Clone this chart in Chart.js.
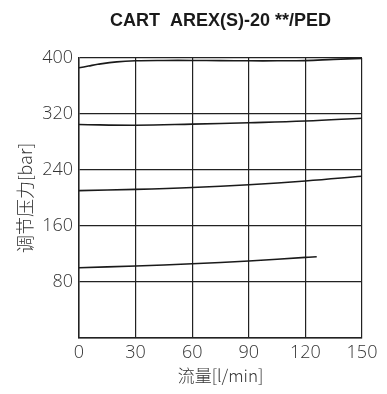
<!DOCTYPE html>
<html>
<head>
<meta charset="utf-8">
<script src="https://cdn.jsdelivr.net/npm/chart.js@4/dist/chart.umd.min.js"></script>
<style>
html,body{margin:0;padding:0;background:#fff;}
#wrap{width:387px;height:394px;position:relative;}
</style>
</head>
<body>
<div id="wrap"><canvas id="c" width="387" height="394"></canvas></div>
<script>
const chartTitle = 'CART  AREX(S)-20 **/PED';
const xTitle = '流量[l/min]';
const yTitle = '调节压力[bar]';
const xTicks = [0, 30, 60, 90, 120, 150];
const yTicks = [0, 80, 160, 240, 320, 400];

const flow1 = [0, 5, 10, 20, 30, 45, 60, 75, 90, 105, 120, 135, 150];
const p1    = [386, 388.5, 391, 394.5, 396, 396.5, 396.5, 396.3, 396, 396, 396.3, 398, 399.5];

const flow2 = [0, 30, 60, 90, 120, 150];
const p2    = [305, 304, 305.5, 307.5, 310, 314];

const flow3 = [0, 30, 60, 90, 120, 150];
const p3    = [210.5, 212.3, 215, 219, 224.3, 231];

const flow4 = [0, 30, 60, 90, 120, 126];
const p4    = [100.4, 102.8, 106, 110, 115.2, 116];

function pts(xs, ys){ return xs.map((x,i)=>({x:x, y:ys[i]})); }
function ds(xs, ys){
  return {data: pts(xs, ys), borderColor:'#1a1a1a', borderWidth:1.6, pointRadius:0, tension:0.4, fill:false};
}

const tickFont = {family:'"Open Sans", "DejaVu Sans"', size:18, weight:'300'};
const cjkFont = (sz)=>({family:'"Noto Sans CJK SC", "DejaVu Sans"', size:sz, weight:'300'});

new Chart(document.getElementById('c'), {
  type:'line',
  data:{datasets:[ds(flow1,p1), ds(flow2,p2), ds(flow3,p3), ds(flow4,p4)]},
  options:{
    responsive:false,
    animation:false,
    layout:{padding:{left:0, right:25, top:0, bottom:0}},
    plugins:{
      legend:{display:false},
      tooltip:{enabled:false},
      title:{display:true, text:chartTitle, fullSize:false, color:'#1a1a1a',
        font:{family:'"Liberation Sans", Arial, sans-serif', size:18, weight:'bold'},
        padding:{top:10, bottom:26.4}}
    },
    scales:{
      x:{type:'linear', min:0, max:150,
        afterBuildTicks:(s)=>{s.ticks = xTicks.map(v=>({value:v}));},
        afterFit:(s)=>{s.height = 56;},
        grid:{color:'#222', lineWidth:1.2, drawTicks:false},
        border:{color:'#222', width:1.5},
        ticks:{color:'#333', font:tickFont, padding:4, maxRotation:0},
        title:{display:true, text:xTitle, color:'#333', font:cjkFont(17), padding:{top:0,bottom:8}}
      },
      y:{type:'linear', min:0, max:400,
        afterBuildTicks:(s)=>{s.ticks = yTicks.map(v=>({value:v}));},
        afterFit:(s)=>{s.width = 79;},
        grid:{color:'#222', lineWidth:1.2, drawTicks:false},
        border:{color:'#222', width:1.5},
        ticks:{color:'#333', font:tickFont, padding:6, callback:(v)=> v===0 ? '' : String(v)},
        title:{display:true, text:yTitle, color:'#333', font:cjkFont(18), padding:{top:14,bottom:0}}
      }
    }
  }
});
</script>
</body>
</html>
